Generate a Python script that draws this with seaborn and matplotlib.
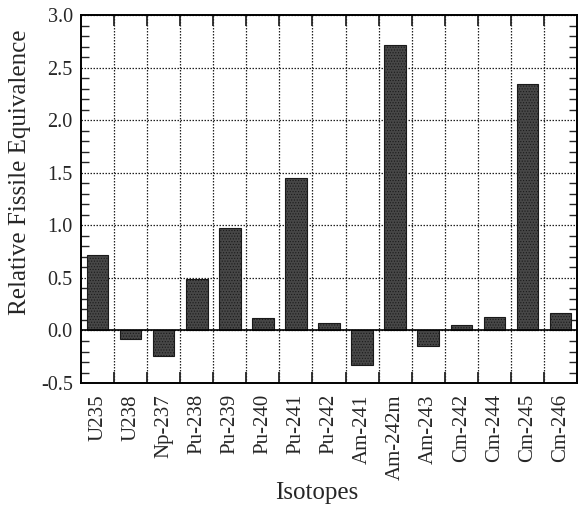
import matplotlib
matplotlib.use("Agg")
import matplotlib.pyplot as plt
import seaborn as sns
import pandas as pd
import numpy as np
from matplotlib.ticker import MultipleLocator, FixedLocator

isotopes = ["U235", "U238", "Np-237", "Pu-238", "Pu-239", "Pu-240", "Pu-241", "Pu-242",
            "Am-241", "Am-242m", "Am-243", "Cm-242", "Cm-244", "Cm-245", "Cm-246"]
values = [0.72, -0.08, -0.24, 0.49, 0.98, 0.12, 1.45, 0.07,
          -0.33, 2.72, -0.15, 0.05, 0.13, 2.35, 0.17]

df = pd.DataFrame({"Isotope": isotopes, "Value": values})

sns.set_style("white")
plt.rcParams["font.family"] = ["Liberation Serif", "DejaVu Serif"]
plt.rcParams["hatch.color"] = "#8a8a8a"
plt.rcParams["hatch.linewidth"] = 0.5

fig = plt.figure(figsize=(5.79, 5.09), dpi=100)
ax = fig.add_axes([0.14, 0.2475, 0.8565, 0.7225])

sns.barplot(data=df, x="Isotope", y="Value", color="#474747", width=0.65,
            edgecolor="#1a1a1a", linewidth=0.8, saturation=1, ax=ax, zorder=3)
for p in ax.patches:
    p.set_hatch("......")

n = len(isotopes)
ax.set_xlim(-0.5, n - 0.5)
ax.set_ylim(-0.5, 3.0)
ax.yaxis.set_major_locator(MultipleLocator(0.5))
ax.yaxis.set_minor_locator(MultipleLocator(0.1))
ax.set_yticklabels([f"{t:.1f}" for t in ax.get_yticks()])
ax.xaxis.set_minor_locator(FixedLocator(np.arange(0.5, n - 0.5, 1)))

ax.tick_params(axis="x", which="major", length=0, labelsize=15, labelrotation=90, pad=8)
ax.tick_params(axis="x", which="minor", direction="in", length=8, width=1.3, top=True, bottom=True)
ax.tick_params(axis="y", which="major", direction="in", length=0, labelsize=14.5, pad=6)
ax.tick_params(axis="y", which="minor", direction="in", length=6, width=1.0, left=True, right=True)

ax.grid(axis="y", which="major", linestyle=(0, (1.2, 1.2)), color="#222222", linewidth=0.9, zorder=0)
ax.grid(axis="x", which="minor", linestyle=(0, (1.2, 1.2)), color="#222222", linewidth=0.9, zorder=0)
ax.axhline(0, color="black", linewidth=1.2, zorder=4)

for s in ax.spines.values():
    s.set_visible(True)
    s.set_color("black")
    s.set_linewidth(1.4)

ax.set_xlabel("Isotopes", fontsize=18)
ax.xaxis.set_label_coords(0.475, -0.27)
ax.set_ylabel("Relative Fissile Equivalence", fontsize=18)
ax.yaxis.set_label_coords(-0.10, 0.573)

fig.savefig("out.png", dpi=100)
